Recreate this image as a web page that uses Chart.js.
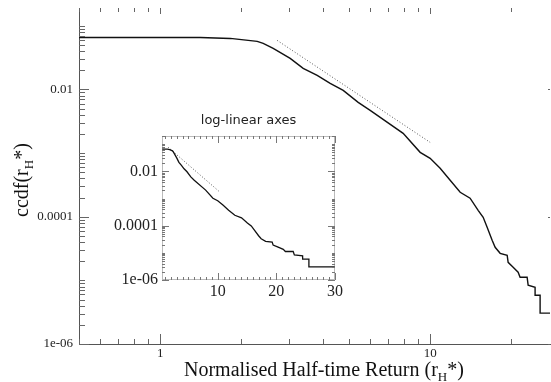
<!DOCTYPE html>
<html><head><meta charset="utf-8">
<script src="https://cdn.jsdelivr.net/npm/chart.js@4.4.0/dist/chart.umd.min.js"></script>
<style>
html,body{margin:0;padding:0;background:#fff;}
#wrap{position:relative;width:551px;height:382px;overflow:hidden;background:#fff;}
#main{position:absolute;left:0;top:0;}
#inset{position:absolute;left:110px;top:108px;}
.ttl{position:absolute;font-family:'Liberation Serif',serif;font-size:20px;line-height:20px;color:#111;white-space:nowrap;}
.sub{font-size:13px;position:relative;top:5px;}
#ytitle{left:11px;top:217px;transform-origin:0 0;transform:rotate(-90deg);}
#xtitle{left:184px;top:359px;}
</style></head>
<body><div id="wrap">
<canvas id="main" width="551" height="382"></canvas>
<canvas id="inset" width="240" height="200"></canvas>
<div class="ttl" id="xtitle">Normalised Half-time Return (r<span class="sub">H</span>*)</div>
<div class="ttl" id="ytitle">ccdf(r<span class="sub">H</span>*)</div>
</div>
<script>
// ---- data ----
const rhValues = [0.5, 1.406, 1.817, 2.287, 2.407, 2.621, 3.030, 3.385, 3.815, 4.262, 4.763, 5.412, 5.995, 7.943, 9.183, 10, 10.89, 11.86, 12.92, 14.06, 15.06, 15.72, 16.26, 16.97, 17.41, 18.17, 19.29, 19.45, 20.30, 21.18, 21.54, 22.87, 23.07, 24.48, 24.48, 25.55, 25.55, 30];
const ccdfValues = [0.0655, 0.0655, 0.0632, 0.0567, 0.0527, 0.0440, 0.0307, 0.02137, 0.01659, 0.01242, 0.00965, 0.00625, 0.00468, 0.00204, 0.001026, 0.000825, 0.000575, 0.000373, 0.000242, 0.000195, 0.000126, 9.78e-5, 6.82e-5, 4.26e-5, 3.31e-5, 2.66e-5, 2.48e-5, 1.92e-5, 1.61e-5, 1.34e-5, 1.12e-5, 1.12e-5, 8.4e-6, 7.8e-6, 5.83e-6, 5.83e-6, 3.05e-6, 3.05e-6];
const powerFitX = [2.713, 10];
const powerFitY = [0.0588, 0.00147];
const expFitX = [1.53, 10.24];
const expFitY = [0.0774, 0.00182];

// ---- tick labels ----
const mainXLabelVals = [1, 10];
const mainXLabelTexts = ['1', '10'];
const mainYLabelVals = [1e-2, 1e-4, 1e-6];
const mainYLabelTexts = ['0.01', '0.0001', '1e-06'];
const insetXLabelVals = [10, 20, 30];
const insetXLabelTexts = ['10', '20', '30'];
const insetYLabelVals = [1e-2, 1e-4, 1e-6];
const insetYLabelTexts = ['0.01', '0.0001', '1e-06'];
const insetTitle = 'log-linear axes';

function labelFor(v, vals, texts){
  const i = vals.findIndex(u => Math.abs(u - v) <= Math.abs(u) * 1e-6);
  return i < 0 ? '' : texts[i];
}
function logTicks(min, max){
  const out = [];
  for (let e = Math.floor(Math.log10(min)); e <= Math.ceil(Math.log10(max)); e++){
    for (let d = 1; d < 10; d++){
      const v = +(d * Math.pow(10, e)).toPrecision(6);
      if (v >= min * 0.9999 && v <= max * 1.0001) out.push(v);
    }
  }
  return out;
}
function linTicks(min, max, step){
  const out = [];
  for (let v = Math.ceil(min / step) * step; v <= max + 1e-9; v += step) out.push(v);
  return out;
}
const toXY = (xs, ys) => xs.map((x, i) => ({x, y: ys[i]}));
const noPad = s => { s.paddingTop = 0; s.paddingBottom = 0; s.paddingLeft = 0; s.paddingRight = 0; };

const inTicks = {
  id: 'inTicks',
  afterDraw(chart, args, o){
    const ctx = chart.ctx, a = chart.chartArea;
    const xs = chart.scales.x, ys = chart.scales.y;
    ctx.save();
    ctx.strokeStyle = o.color; ctx.lineWidth = 1;
    const line = (x1, y1, x2, y2) => { ctx.beginPath(); ctx.moveTo(x1, y1); ctx.lineTo(x2, y2); ctx.stroke(); };
    xs.ticks.forEach(t => {
      const px = Math.round(xs.getPixelForValue(t.value)) + 0.5;
      if (px < a.left - 1 || px > a.right + 1) return;
      const maj = t.label !== '' && t.label != null ? 1 : 0;
      if (o.bottom[maj]) line(px, a.bottom, px, a.bottom - o.bottom[maj]);
      if (o.top[maj]) line(px, a.top, px, a.top + o.top[maj]);
    });
    ys.ticks.forEach(t => {
      const py = Math.round(ys.getPixelForValue(t.value)) + 0.5;
      if (py < a.top - 1 || py > a.bottom + 1) return;
      const maj = t.label !== '' && t.label != null ? 1 : 0;
      if (o.left[maj]) line(a.left, py, a.left + o.left[maj], py);
      if (o.right[maj]) line(a.right, py, a.right - o.right[maj], py);
    });
    if (o.frame){
      ctx.setLineDash(o.frame.dash);
      ctx.strokeStyle = o.frame.color;
      ctx.strokeRect(a.left + 0.5, a.top + 0.5, a.right - a.left - 1, a.bottom - a.top - 1);
    }
    ctx.restore();
  }
};

const serif = 'Liberation Serif';

// ---- main log-log chart ----
new Chart(document.getElementById('main'), {
  type: 'line',
  data: { datasets: [
    { data: toXY(rhValues, ccdfValues), borderColor: '#111', borderWidth: 1.4, pointRadius: 0, fill: false, tension: 0 },
    { data: toXY(powerFitX, powerFitY), borderColor: '#555', borderWidth: 1, borderDash: [1, 2], pointRadius: 0, fill: false }
  ]},
  options: {
    responsive: false, animation: false, devicePixelRatio: 1,
    layout: { padding: { top: 8, right: 1, left: 0, bottom: 0 } },
    plugins: { legend: { display: false }, tooltip: { enabled: false },
      inTicks: { color: '#666', bottom: [5, 10], top: [4, 6], left: [6, 10], right: [0, 2] } },
    scales: {
      x: { type: 'logarithmic', position: 'bottom', min: 0.5, max: 27.8,
        afterBuildTicks: s => { s.ticks = logTicks(0.5, 27.8).map(v => ({value: v})); },
        afterFit: s => { s.height = 38; noPad(s); },
        grid: { display: false, drawTicks: false },
        border: { display: true, color: '#555', width: 1 },
        ticks: { autoSkip: false, maxRotation: 0, padding: 2, color: '#222',
          font: { family: serif, size: 13 },
          callback: v => labelFor(v, mainXLabelVals, mainXLabelTexts) } },
      y: { type: 'logarithmic', position: 'left', min: 1e-6, max: 0.19,
        afterBuildTicks: s => { s.ticks = logTicks(1e-6, 0.19).map(v => ({value: v})); },
        afterFit: s => { s.width = 79; noPad(s); },
        grid: { display: false, drawTicks: false },
        border: { display: true, color: '#555', width: 1 },
        ticks: { autoSkip: false, padding: 6, color: '#222',
          font: { family: serif, size: 13 },
          callback: v => labelFor(v, mainYLabelVals, mainYLabelTexts) } }
    }
  },
  plugins: [inTicks]
});

// ---- inset log-linear chart ----
new Chart(document.getElementById('inset'), {
  type: 'line',
  data: { datasets: [
    { data: toXY(rhValues, ccdfValues), borderColor: '#111', borderWidth: 1.3, pointRadius: 0, fill: false, tension: 0 },
    { data: toXY(expFitX, expFitY), borderColor: '#555', borderWidth: 1, borderDash: [1, 2], pointRadius: 0, fill: false }
  ]},
  options: {
    responsive: false, animation: false, devicePixelRatio: 1,
    layout: { padding: { top: 0, right: 15, left: 0, bottom: 0 } },
    plugins: { legend: { display: false }, tooltip: { enabled: false },
      title: { display: true, text: insetTitle, fullSize: false, color: '#222',
        font: { family: 'DejaVu Sans', size: 13, weight: 'normal', lineHeight: 1.2 },
        padding: { top: 5, bottom: 7.4 } },
      inTicks: { color: '#777', bottom: [3, 7], top: [3, 7], left: [3, 7], right: [3, 7],
        frame: { dash: [1, 1], color: '#777' } } },
    scales: {
      x: { type: 'linear', position: 'bottom', min: 0.5, max: 30,
        afterBuildTicks: s => { s.ticks = linTicks(0.5, 30, 1).map(v => ({value: v})); },
        afterFit: s => { s.height = 28; noPad(s); },
        grid: { display: false, drawTicks: false },
        border: { display: false },
        ticks: { autoSkip: false, maxRotation: 0, padding: 2, color: '#222',
          font: { family: serif, size: 16 },
          callback: v => labelFor(v, insetXLabelVals, insetXLabelTexts) } },
      y: { type: 'logarithmic', position: 'left', min: 1e-6, max: 0.2,
        afterBuildTicks: s => { s.ticks = logTicks(1e-6, 0.2).map(v => ({value: v})); },
        afterFit: s => { s.width = 52; noPad(s); },
        grid: { display: false, drawTicks: false },
        border: { display: false },
        ticks: { autoSkip: false, padding: 4, color: '#222',
          font: { family: serif, size: 16 },
          callback: v => labelFor(v, insetYLabelVals, insetYLabelTexts) } }
    }
  },
  plugins: [inTicks]
});
</script>
</body></html>
